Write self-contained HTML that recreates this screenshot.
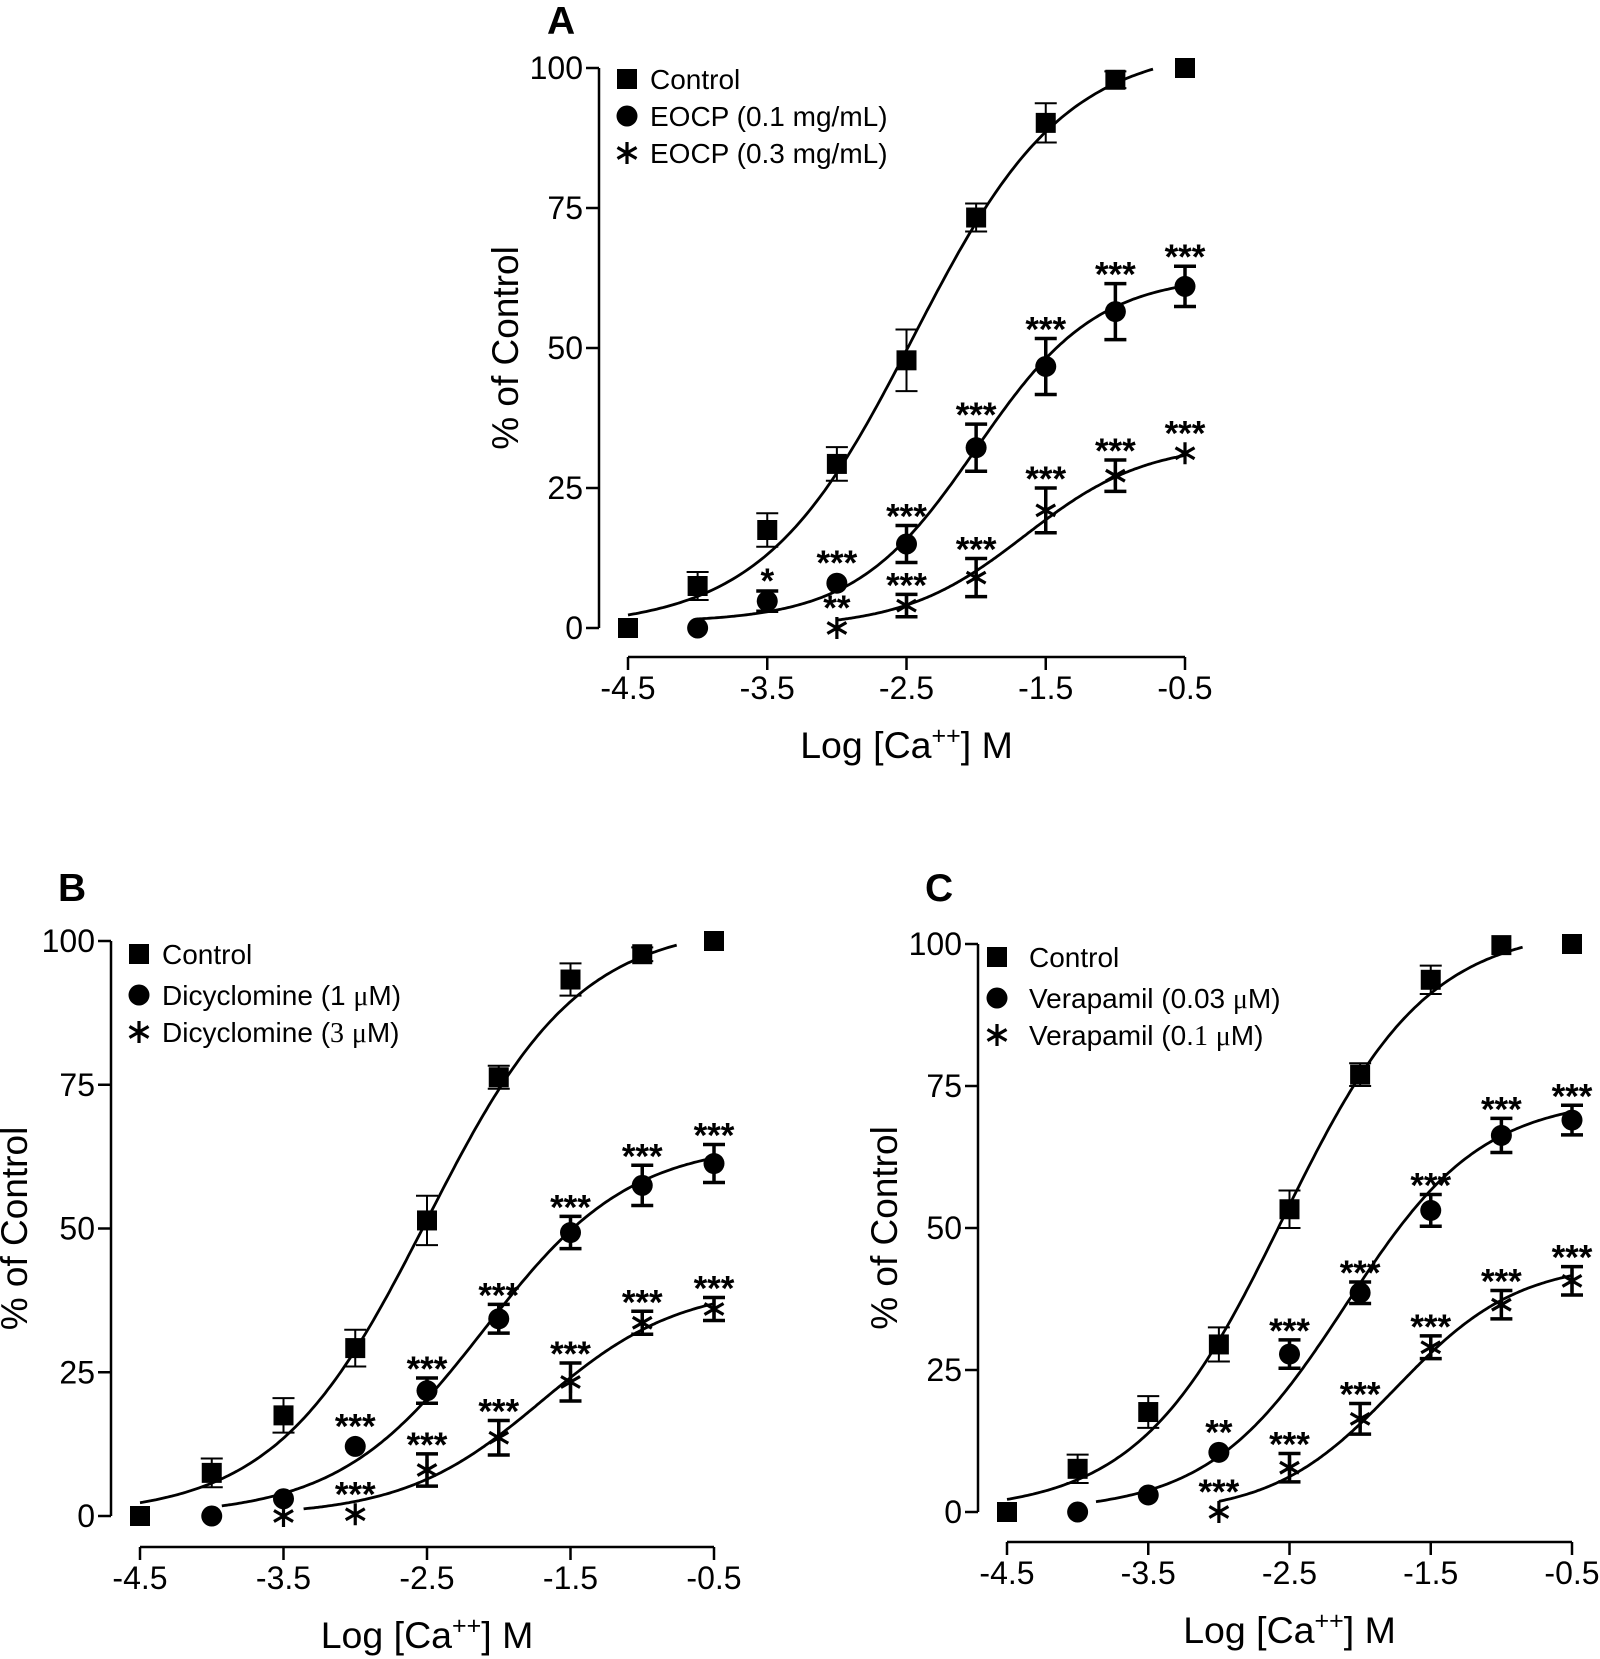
<!DOCTYPE html>
<html><head><meta charset="utf-8"><style>
body{margin:0;background:#fff}
svg{display:block}
text{font-family:"Liberation Sans",Arial,sans-serif;fill:#000}
</style></head><body>
<svg id="fig" width="1600" height="1659" viewBox="0 0 1600 1659"></svg>
<script>
const xTicks=[-4.5,-3.5,-2.5,-1.5,-0.5];
const xTickLabels=["-4.5","-3.5","-2.5","-1.5","-0.5"];
const yTicks=[0,25,50,75,100];
const yTickLabels=["0","25","50","75","100"];
const xCats=[-4.5,-4,-3.5,-3,-2.5,-2,-1.5,-1,-0.5];

// Panel A
const aCtrlVals=[0,7.5,17.5,29.3,47.8,73.3,90.2,97.9,100];
const aCtrlErr=[0,2.5,3,3,5.5,2.5,3.5,1.5,0];
const aLowVals=[null,0,4.8,8,15,32.2,46.7,56.5,61];
const aLowErr=[null,0,1.8,0,3.3,4.2,5,5,3.6];
const aLowSig=["","","*","***","***","***","***","***","***"];
const aHighVals=[null,null,null,0,4,9,21,27.2,31.2];
const aHighErr=[null,null,null,0,2,3.4,4,2.8,0];
const aHighSig=["","","","**","***","***","***","***","***"];
// Panel B
const bCtrlVals=[0,7.5,17.5,29.2,51.4,76.3,93.3,97.7,100];
const bCtrlErr=[0,2.5,3,3.2,4.3,2,2.8,1.2,0];
const bLowVals=[null,0,3,12.1,21.8,34.3,49.3,57.5,61.3];
const bLowErr=[null,0,0,0,2.2,2.5,2.8,3.5,3.3];
const bLowSig=["","","","***","***","***","***","***","***"];
const bHighVals=[null,null,0,0.3,8,13.6,23.3,33.6,36];
const bHighErr=[null,null,0,0,2.8,3,3.3,2,2];
const bHighSig=["","","","***","***","***","***","***","***"];
// Panel C
const cCtrlVals=[0,7.6,17.6,29.5,53.3,77,93.7,99.8,100];
const cCtrlErr=[0,2.5,2.8,3,3.3,2,2.5,0,0];
const cLowVals=[null,0,3,10.5,27.8,38.6,53.1,66.3,69];
const cLowErr=[null,0,0,0,2.5,1.9,2.8,3,2.6];
const cLowSig=["","","","**","***","***","***","***","***"];
const cHighVals=[null,null,null,0,7.8,16.4,29,36.5,40.7];
const cHighErr=[null,null,null,0,2.5,2.7,2,2.5,2.5];
const cHighSig=["","","","***","***","***","***","***","***"];
// fitted curve params: [bottom, top, logEC50, hill, xStart, xEnd]
const aFits=[[0,104,-2.45,0.8,-4.5,-0.73],[1,63,-2.0,1.0,-4,-0.5],[0,33,-1.65,1.0,-3,-0.5]];
const bFits=[[0,103,-2.5,0.82,-4.5,-0.76],[0,65,-2.1,0.85,-3.93,-0.5],[0,40,-1.7,0.9,-3.36,-0.5]];
const cFits=[[0,103,-2.55,0.85,-4.5,-0.85],[0,73,-2.1,0.9,-3.87,-0.5],[-0.5,44,-1.75,1.0,-3,-0.5]];

const NS="http://www.w3.org/2000/svg";
const svg=document.getElementById('fig');
function mk(tag,attrs,parent){const e=document.createElementNS(NS,tag);for(const k in attrs)e.setAttribute(k,attrs[k]);(parent||svg).appendChild(e);return e;}

function panel(cfg){
  const g=mk('g',{});
  
  
  const sx=v=>cfg.x0+(v+4.5)/4*(cfg.x1-cfg.x0);
  const sy=v=>cfg.y0+(v/100)*(cfg.y100-cfg.y0);
  const L=mk('text',{x:cfg.lx,y:cfg.ly,'font-size':39,'font-weight':'bold'},g);L.textContent=cfg.id;
  
  
  const ya=mk('g',{},g);
  
  
  mk('line',{x1:cfg.ax,y1:sy(100),x2:cfg.ax,y2:sy(0),stroke:'#000','stroke-width':2.5},ya);
  yTicks.forEach((t,i)=>{
    mk('line',{x1:cfg.ax-13,y1:sy(t),x2:cfg.ax,y2:sy(t),stroke:'#000','stroke-width':2.5},ya);
    const tx=mk('text',{x:cfg.ax-16,y:sy(t)+11,'font-size':32,'text-anchor':'end'},ya);tx.textContent=yTickLabels[i];
    
    
  });
  const yt=mk('text',{x:0,y:0,'font-size':37,'text-anchor':'middle',transform:`translate(${cfg.ytx},${(sy(0)+sy(100))/2}) rotate(-90)`},g);
  yt.textContent='% of Control';
  
  
  const xa=mk('g',{},g);
  
  
  mk('line',{x1:sx(-4.5),y1:cfg.xay,x2:sx(-0.5),y2:cfg.xay,stroke:'#000','stroke-width':2.5},xa);
  xTicks.forEach((t,i)=>{
    mk('line',{x1:sx(t),y1:cfg.xay,x2:sx(t),y2:cfg.xay+13,stroke:'#000','stroke-width':2.5},xa);
    const tx=mk('text',{x:sx(t),y:cfg.xay+42,'font-size':32,'text-anchor':'middle'},xa);tx.textContent=xTickLabels[i];
    
    
  });
  const xt=mk('text',{x:(sx(-4.5)+sx(-0.5))/2,y:cfg.xay+101,'font-size':37.5,'text-anchor':'middle'},g);
  xt.innerHTML='Log [Ca<tspan dy="-14" font-size="25">++</tspan><tspan dy="14">] M</tspan>';
  
  
  cfg.fits.forEach((f,si)=>{
    let d='';
    for(let k=0;k<=200;k++){const x=f[4]+(f[5]-f[4])*k/200;const y=f[0]+(f[1]-f[0])/(1+Math.pow(10,(f[2]-x)*f[3]));d+=(k?'L':'M')+sx(x).toFixed(1)+','+sy(y).toFixed(1);}
    const p=mk('path',{d:d,fill:'none',stroke:'#000','stroke-width':2.8},g);
    
    
  });
  const series=[[cfg.ctrl,cfg.ctrlErr,null,'square',2],[cfg.low,cfg.lowErr,cfg.lowSig,'circle',3.5],[cfg.high,cfg.highErr,cfg.highSig,'star',3.5]];
  series.forEach((s,si)=>{
    const sg=mk('g',{},g);
    
    
    s[0].forEach((v,i)=>{
      if(v===null)return;
      const px=sx(xCats[i]),py=sy(v),e=s[1][i];
      let top=py-11;
      if(e>0){
        const yt2=sy(v+e),yb=sy(v-e);
        const eb=mk('path',{d:`M${px},${yt2}V${yb}M${px-11},${yt2}H${px+11}M${px-11},${yb}H${px+11}`,stroke:'#000','stroke-width':s[4],fill:'none'},sg);
        
        
        top=Math.min(top,yt2);
      }
      marker(sg,s[3],px,py);
      if(s[2]&&s[2][i]){
        const st=mk('text',{x:px,y:top+3,'font-size':35,'font-weight':'bold','text-anchor':'middle'},sg);st.textContent=s[2][i];
        
        
      }
    });
  });
  const lg=mk('g',{},g);
  
  
  cfg.legend.forEach((t,i)=>{
    const y=cfg.legY[i];
    marker(lg,['square','circle','star'][i],cfg.legMx,y);
    const tx=mk('text',{x:cfg.legTx,y:y+10,'font-size':28},lg);tx.innerHTML=t;
    
    
  });
}
function marker(parent,type,x,y){
  let m;
  if(type==='square')m=mk('rect',{x:x-10,y:y-10,width:20,height:20,fill:'#000'},parent);
  else if(type==='circle')m=mk('circle',{cx:x,cy:y,r:10.5,fill:'#000'},parent);
  else{
    const r=11,d=[];
    [90,30,150].forEach(a=>{const c=Math.cos(a*Math.PI/180)*r,s=Math.sin(a*Math.PI/180)*r;d.push(`M${x-c},${y-s}L${x+c},${y+s}`);});
    m=mk('path',{d:d.join(''),stroke:'#000','stroke-width':3.2,fill:'none'},parent);
  }
  
  
}
const mu='<tspan font-family="Liberation Serif,serif">μ</tspan>';
panel({id:'A',x0:628,x1:1185,y0:628,y100:68,ax:599,xay:657,ytx:518,lx:547,ly:34,
  fits:aFits,names:['control','eocp-0-1','eocp-0-3'],
  ctrl:aCtrlVals,ctrlErr:aCtrlErr,low:aLowVals,lowErr:aLowErr,lowSig:aLowSig,high:aHighVals,highErr:aHighErr,highSig:aHighSig,
  legend:['Control','EOCP (0.1 mg/mL)','EOCP (0.3 mg/mL)'],legY:[79,116,153],legMx:627,legTx:650});
panel({id:'B',x0:140,x1:714,y0:1516,y100:941,ax:111,xay:1547,ytx:27,lx:58,ly:901,
  fits:bFits,names:['control','dicyclomine-1','dicyclomine-3'],
  ctrl:bCtrlVals,ctrlErr:bCtrlErr,low:bLowVals,lowErr:bLowErr,lowSig:bLowSig,high:bHighVals,highErr:bHighErr,highSig:bHighSig,
  legend:['Control','Dicyclomine (1 '+mu+'M)','Dicyclomine (<tspan font-family="Liberation Serif,serif">3</tspan> '+mu+'M)'],legY:[954,995,1032],legMx:139,legTx:162});
panel({id:'C',x0:1007,x1:1572,y0:1512,y100:944,ax:978,xay:1542,ytx:897,lx:925,ly:901,
  fits:cFits,names:['control','verapamil-0-03','verapamil-0-1'],
  ctrl:cCtrlVals,ctrlErr:cCtrlErr,low:cLowVals,lowErr:cLowErr,lowSig:cLowSig,high:cHighVals,highErr:cHighErr,highSig:cHighSig,
  legend:['Control','Verapamil (0.03 '+mu+'M)','Verapamil (0.<tspan font-family="Liberation Serif,serif">1</tspan> '+mu+'M)'],legY:[957,998,1035],legMx:997,legTx:1029});
</script>
</body></html>
